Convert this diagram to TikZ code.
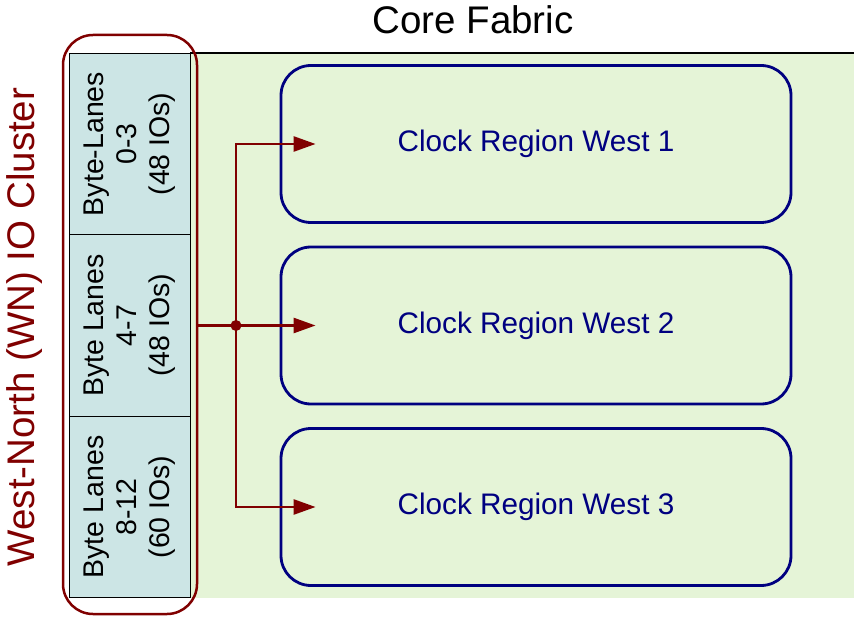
\documentclass[tikz,border=0pt]{standalone}
\usepackage{fontspec}
\setmainfont{Liberation Sans}
\usetikzlibrary{arrows.meta}
\definecolor{wnred}{RGB}{128,0,0}
\definecolor{crblue}{RGB}{0,0,128}
\definecolor{fabric}{RGB}{229,244,215}
\definecolor{lanefill}{RGB}{204,229,229}
\tikzset{
  lane/.style={draw=black, line width=1pt, fill=lanefill, rotate=90,
    minimum width=181.5pt, minimum height=121pt, inner sep=0pt,
    align=center, font=\fontsize{28.5}{33}\selectfont},
  clkreg/.style={draw=crblue, line width=2.8pt, rounded corners=30pt,
    minimum width=510pt, minimum height=157pt, text=crblue,
    font=\fontsize{29.7}{33}\selectfont},
  cluster/.style={draw=wnred, line width=2.5pt, rounded corners=30pt,
    minimum width=134pt, minimum height=579pt},
  link/.style={draw=wnred, line width=2.6pt, -{Triangle[length=22pt,width=15pt]}}
}
\begin{document}
\begin{tikzpicture}[x=1pt,y=-1pt]
  \useasboundingbox (0,0) rectangle (854,617);
  % core fabric area
  \fill[fabric] (190,53) rectangle (854,598);
  \draw[line width=1.2pt] (190,53) -- (854,53);
  \node[font=\fontsize{38.5}{40}\selectfont] (title) at (473,20) {Core Fabric};

  % IO cluster
  \node[cluster] (wn) at (130,324.5) {};
  \node[lane] (lane1) at (129.5,144) {Byte-Lanes\\0-3\\(48 IOs)};
  \node[lane] (lane2) at (129.5,325.5) {Byte Lanes\\4-7\\(48 IOs)};
  \node[lane] (lane3) at (129.5,507) {Byte Lanes\\8-12\\(60 IOs)};
  \node[rotate=90, text=wnred, font=\fontsize{38.5}{42}\selectfont] (wnlabel) at (25,327)
    {West-North (WN) IO Cluster};

  % clock regions
  \node[clkreg] (cr1) at (536,144) {Clock Region West 1};
  \node[clkreg] (cr2) at (536,325.5) {Clock Region West 2};
  \node[clkreg] (cr3) at (536,507) {Clock Region West 3};

  % connections
  \coordinate (hub) at (236,325.5);
  \draw[wnred, line width=2.6pt] (wn.east |- lane2.center) -- (hub);
  \fill[wnred] (hub) circle (5.5pt);
  \draw[link] (hub) |- ([xshift=36pt]cr1.west);
  \draw[link] (hub) -- ([xshift=36pt]cr2.west);
  \draw[link] (hub) |- ([xshift=36pt]cr3.west);
\end{tikzpicture}
\end{document}
